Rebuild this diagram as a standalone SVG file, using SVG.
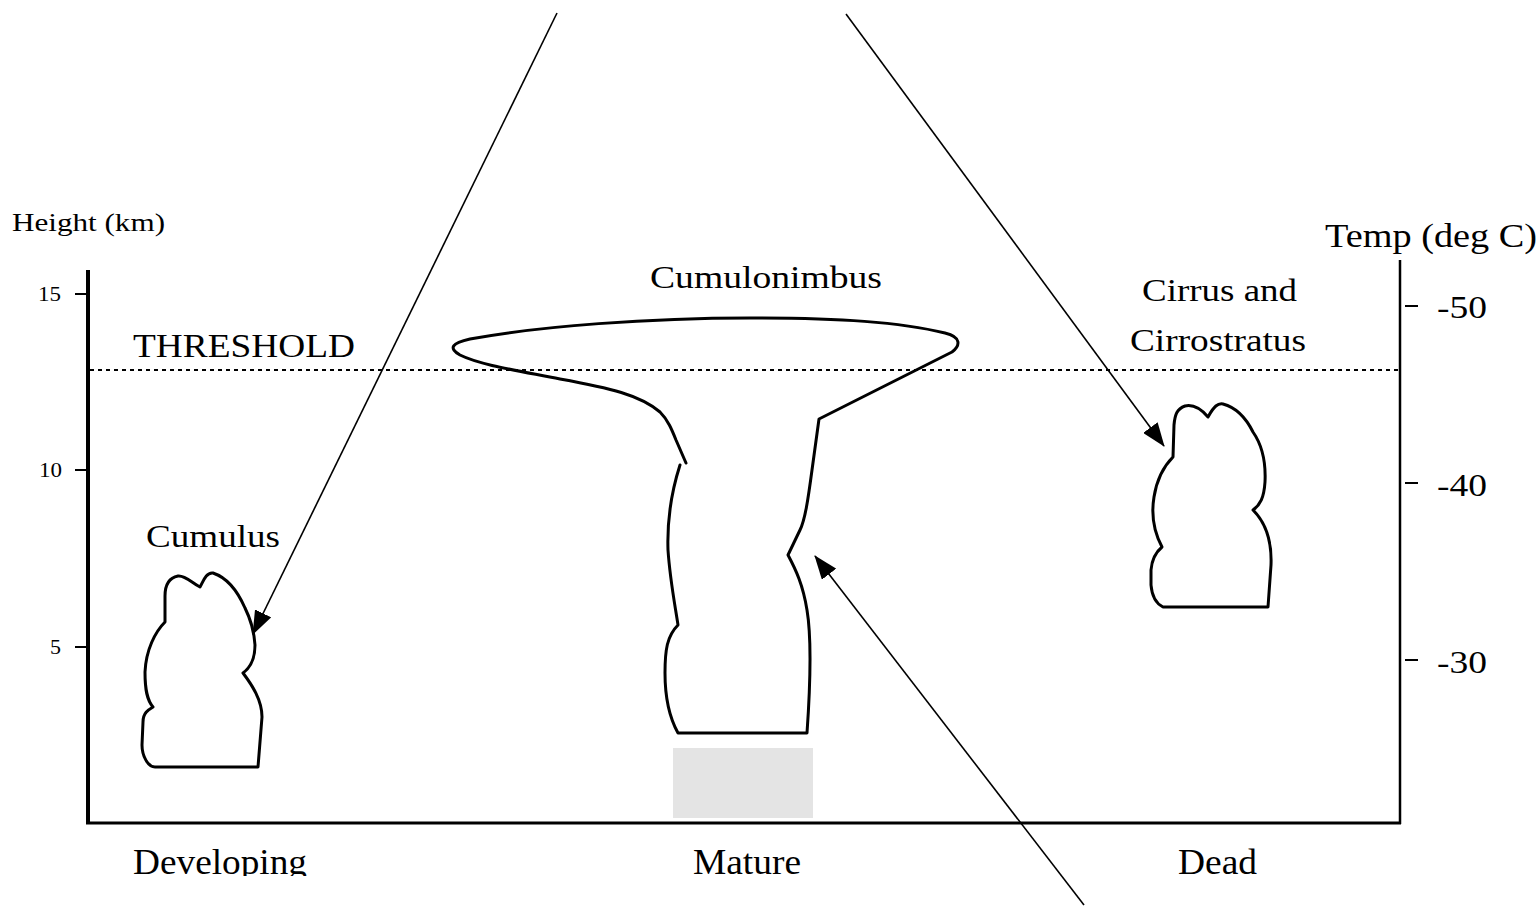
<svg xmlns="http://www.w3.org/2000/svg" width="1540" height="907" viewBox="0 0 1540 907">
  <style>
    text { font-family: "Liberation Serif", "Times New Roman", serif; fill: #000; }
    .axis { stroke: #000; fill: none; }
    .cloud { fill: #fff; stroke: #000; stroke-width: 3; stroke-linejoin: round; stroke-linecap: round; }
    .outline { fill: none; stroke: #000; stroke-width: 3; stroke-linejoin: round; stroke-linecap: round; }
    .pointer { stroke: #000; stroke-width: 1.6; fill: none; }
  </style>
  <defs>
    <marker id="head" viewBox="0 0 24 18" refX="23" refY="9" markerWidth="24" markerHeight="18" markerUnits="userSpaceOnUse" orient="auto">
      <path d="M0,0 L24,9 L0,18 Z" fill="#000"/>
    </marker>
    <clipPath id="stageClip">
      <rect x="0" y="0" width="1540" height="876"/>
    </clipPath>
  </defs>
  <rect width="1540" height="907" fill="#fff"/>

  <!-- axes -->
  <g id="axes">
    <line class="axis" x1="88" y1="270" x2="88" y2="824" stroke-width="4"/>
    <line class="axis" x1="86" y1="823" x2="1401" y2="823" stroke-width="3"/>
    <line class="axis" x1="1400" y1="260" x2="1400" y2="824" stroke-width="2.5"/>
    <!-- height ticks -->
    <line class="axis" x1="75" y1="294" x2="88" y2="294" stroke-width="2"/>
    <line class="axis" x1="75" y1="470" x2="88" y2="470" stroke-width="2"/>
    <line class="axis" x1="75" y1="647" x2="88" y2="647" stroke-width="2"/>
    <!-- temperature ticks -->
    <line class="axis" x1="1405" y1="306" x2="1418" y2="306" stroke-width="2"/>
    <line class="axis" x1="1405" y1="483" x2="1418" y2="483" stroke-width="2"/>
    <line class="axis" x1="1405" y1="660" x2="1418" y2="660" stroke-width="2"/>
    <text x="12" y="231" font-size="26" textLength="153" lengthAdjust="spacingAndGlyphs">Height (km)</text>
    <text x="38" y="301" font-size="20" textLength="23" lengthAdjust="spacingAndGlyphs">15</text>
    <text x="39" y="477" font-size="20" textLength="23" lengthAdjust="spacingAndGlyphs">10</text>
    <text x="50" y="654" font-size="20" textLength="11" lengthAdjust="spacingAndGlyphs">5</text>
    <text x="1325" y="247" font-size="34" textLength="212" lengthAdjust="spacingAndGlyphs">Temp (deg C)</text>
    <text x="1437" y="318" font-size="31" textLength="50" lengthAdjust="spacingAndGlyphs">-50</text>
    <text x="1437" y="496" font-size="31" textLength="50" lengthAdjust="spacingAndGlyphs">-40</text>
    <text x="1437" y="673" font-size="31" textLength="50" lengthAdjust="spacingAndGlyphs">-30</text>
  </g>

  <!-- threshold level -->
  <g id="threshold">
    <line x1="90" y1="370" x2="1400" y2="370" stroke="#000" stroke-width="2" stroke-dasharray="4,4"/>
    <text x="133" y="357" font-size="34" textLength="222" lengthAdjust="spacingAndGlyphs">THRESHOLD</text>
  </g>

  <!-- developing stage: cumulus -->
  <g id="cumulus">
    <path class="cloud" d="M155,767 L258,767 L262,717 C262,700 252,685 243,673 C250,668 255,660 255,645 C254,630 250,618 245,608 C238,592 228,578 213,573 C206,572 203,582 200,587 C192,583 185,575 178,576 C168,578 165,586 165,596 L165,622 C155,632 146,650 145,672 C145,690 147,700 153,707 C148,710 143,713 143,722 L142,745 C142,756 148,767 155,767 Z"/>
    <text x="146" y="547" font-size="32" textLength="134" lengthAdjust="spacingAndGlyphs">Cumulus</text>
  </g>

  <!-- mature stage: cumulonimbus -->
  <g id="cumulonimbus">
    <rect x="673" y="748" width="140" height="70" fill="#e4e4e4"/>
    <path class="outline" d="M686,463 L676,440 C672,430 668,420 660,412 C640,395 610,388 560,379 C520,371 480,365 460,355 C448,348 452,343 470,339 C540,326 650,318 750,318 C840,318 900,322 945,333 C962,337 960,346 952,352 L819,419 L812,470 C808,500 805,520 800,530 L788,555 C796,570 803,585 807,610 C812,640 810,690 807,733 L678,733 C668,715 665,695 665,673 C665,650 667,636 678,625 C675,605 670,580 668,550 C667,520 672,490 680,465"/>
    <text x="650" y="288" font-size="32" textLength="232" lengthAdjust="spacingAndGlyphs">Cumulonimbus</text>
  </g>

  <!-- dead stage: cirrus and cirrostratus -->
  <g id="cirrus">
    <path class="cloud" d="M1163,607 L1268,607 L1271,565 C1272,540 1265,522 1253,510 C1260,505 1264,498 1265,482 C1266,462 1262,445 1253,432 C1247,420 1238,408 1223,404 C1218,403 1214,406 1208,417 C1202,410 1194,404 1185,406 C1177,409 1175,414 1174,425 L1173,457 C1165,465 1157,478 1154,497 C1151,515 1153,530 1162,547 C1156,552 1152,558 1151,570 L1151,585 C1152,597 1157,604 1163,607 Z"/>
    <text x="1142" y="301" font-size="32" textLength="155" lengthAdjust="spacingAndGlyphs">Cirrus and</text>
    <text x="1130" y="351" font-size="32" textLength="176" lengthAdjust="spacingAndGlyphs">Cirrostratus</text>
  </g>

  <!-- stage labels -->
  <g id="stages" clip-path="url(#stageClip)">
    <text x="133" y="874" font-size="36" textLength="174" lengthAdjust="spacingAndGlyphs">Developing</text>
    <text x="693" y="874" font-size="36" textLength="108" lengthAdjust="spacingAndGlyphs">Mature</text>
    <text x="1178" y="874" font-size="36" textLength="79" lengthAdjust="spacingAndGlyphs">Dead</text>
  </g>

  <!-- pointers -->
  <g id="connectors">
    <line class="pointer" x1="557" y1="13" x2="253" y2="634" marker-end="url(#head)"/>
    <line class="pointer" x1="846" y1="14" x2="1164" y2="446" marker-end="url(#head)"/>
    <line class="pointer" x1="1084" y1="905" x2="815" y2="556" marker-end="url(#head)"/>
  </g>
</svg>
